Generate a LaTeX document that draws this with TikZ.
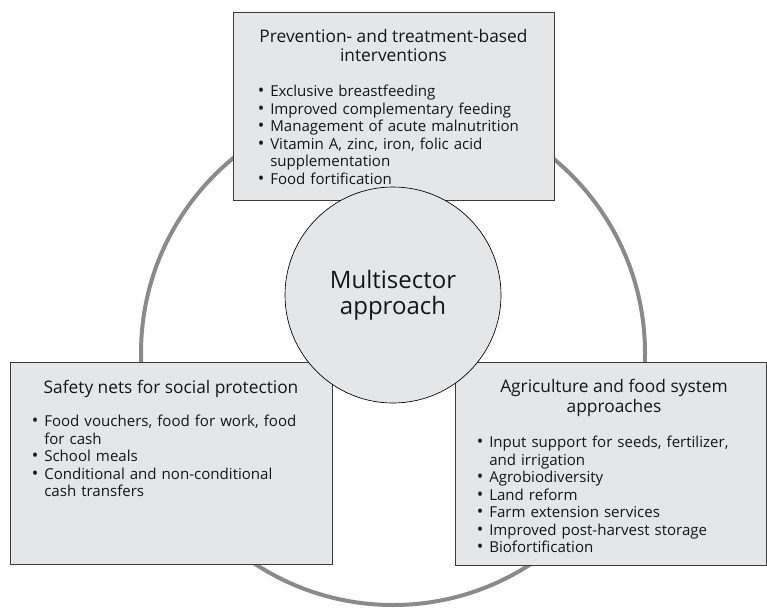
\documentclass[tikz,border=0pt]{standalone}
\usepackage{fontspec}
\setmainfont{Open Sans}
\usepackage{enumitem}
\setlist[itemize]{label={\fontsize{13}{13}\selectfont\textbullet}, nosep, leftmargin=9.75pt, labelsep=4.5pt}

\definecolor{panelgray}{RGB}{229,230,232}
\definecolor{ringgray}{RGB}{138,138,141}
\definecolor{edgegray}{RGB}{58,58,58}
\definecolor{inkblack}{RGB}{22,22,22}

\tikzset{
  panel/.style={draw=edgegray, fill=panelgray, line width=0.9pt, rectangle, inner sep=0pt, anchor=north west},
  headtext/.style={align=center, inner sep=0pt, text=inkblack, font=\fontsize{13}{14.6}\selectfont},
  listtext/.style={anchor=north west, inner sep=0pt, text width=230pt, align=left, text=inkblack, font=\fontsize{11.3}{13.1}\selectfont},
  hub/.style={circle, draw=black, fill=panelgray, line width=0.5pt, inner sep=0pt, minimum size=162pt, align=center, text=inkblack, font=\fontsize{18}{19.5}\selectfont},
  ring/.style={draw=ringgray, line width=3pt}
}

\begin{document}
\begin{tikzpicture}[x=0.75pt,y=0.75pt,yscale=-1,xscale=1]
\useasboundingbox (0,0) rectangle (767,607);

%Shape: Circle [ring behind the boxes]
\draw [ring] (393,353) circle (252);

%Shape: Rectangle [top box]
\node [panel, minimum width=240.75pt, minimum height=141pt] (prevbox) at (233,12) {};
% Text Node
\node [headtext, anchor=north] (prevhead) at (393.5,29) {Prevention- and treatment-based\\interventions};
% Text Node
\node [listtext] (prevlist) at (257,79) {%
\begin{itemize}
\item Exclusive breastfeeding
\item Improved complementary feeding
\item Management of acute malnutrition
\item Vitamin A, zinc, iron, folic acid\\supplementation
\item Food fortification
\end{itemize}};

%Shape: Rectangle [left box]
\node [panel, minimum width=241.5pt, minimum height=151.5pt] (safebox) at (10,362) {};
% Text Node
\node [headtext, anchor=north] (safehead) at (171,380) {Safety nets for social protection};
% Text Node
\node [listtext] (safelist) at (31,409) {%
\begin{itemize}
\item Food vouchers, food for work, food\\for cash
\item School meals
\item Conditional and non-conditional\\cash transfers
\end{itemize}};

%Shape: Rectangle [right box]
\node [panel, minimum width=233.25pt, minimum height=152.25pt] (agribox) at (455,362) {};
% Text Node
\node [headtext, anchor=north] (agrihead) at (614,379) {Agriculture and food system\\approaches};
% Text Node
\node [listtext] (agrilist) at (476,430) {%
\begin{itemize}
\item Input support for seeds, fertilizer,\\and irrigation
\item Agrobiodiversity
\item Land reform
\item Farm extension services
\item Improved post-harvest storage
\item Biofortification
\end{itemize}};

%Shape: Circle [centre]
\node [hub] (hubcircle) at (393,295) {Multisector\\approach};

\end{tikzpicture}
\end{document}
